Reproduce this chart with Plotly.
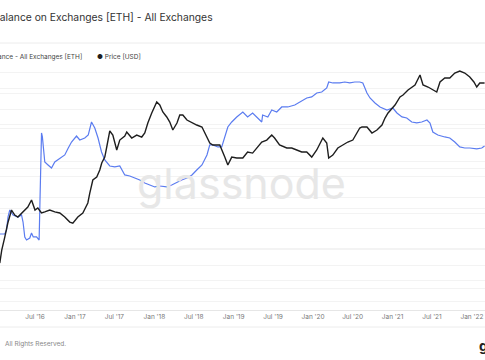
import plotly.graph_objects as go

# ---------------- data ----------------
price_dates = [
    "2016-01-21", "2016-01-30", "2016-02-13", "2016-02-27", "2016-03-15", "2016-03-30", "2016-04-13",
    "2016-04-30", "2016-05-15", "2016-05-29", "2016-06-15", "2016-07-01", "2016-07-14", "2016-07-31",
    "2016-08-15", "2016-09-07", "2016-09-30", "2016-10-23", "2016-11-15", "2016-12-08", "2016-12-22",
    "2017-01-14", "2017-02-06", "2017-03-01", "2017-03-10", "2017-03-24", "2017-04-11", "2017-04-25",
    "2017-05-04", "2017-05-18", "2017-05-27", "2017-06-10", "2017-06-24", "2017-07-12", "2017-07-26",
    "2017-08-18", "2017-08-27", "2017-09-19", "2017-10-12", "2017-11-04", "2017-11-18", "2017-12-02",
    "2017-12-20", "2018-01-03", "2018-01-12", "2018-01-26", "2018-02-09", "2018-02-27", "2018-03-13",
    "2018-03-27", "2018-04-15", "2018-04-28", "2018-05-12", "2018-05-31", "2018-06-23", "2018-07-15",
    "2018-08-08", "2018-08-31", "2018-09-13", "2018-09-27", "2018-10-29", "2018-11-21", "2018-12-05",
    "2018-12-23", "2019-01-15", "2019-02-12", "2019-03-06", "2019-03-29", "2019-04-17", "2019-05-10",
    "2019-06-02", "2019-06-25", "2019-07-08", "2019-07-31", "2019-09-02", "2019-09-25", "2019-10-18",
    "2019-11-10", "2019-12-03", "2019-12-26", "2020-01-18", "2020-02-15", "2020-03-04", "2020-03-13",
    "2020-04-01", "2020-04-24", "2020-05-17", "2020-06-09", "2020-07-02", "2020-07-25", "2020-08-03",
    "2020-08-13", "2020-09-05", "2020-09-28", "2020-10-21", "2020-11-13", "2020-11-27", "2020-12-11",
    "2020-12-29", "2021-01-12", "2021-02-04", "2021-02-18", "2021-03-13", "2021-04-14", "2021-05-07",
    "2021-05-21", "2021-06-13", "2021-07-05", "2021-07-23", "2021-08-07", "2021-08-29", "2021-09-21",
    "2021-10-14", "2021-11-06", "2021-11-29", "2021-12-22", "2022-01-10", "2022-01-23", "2022-02-06",
    "2022-02-28",
]
price_usd = [
    1.09, 1.94, 3.45, 6.42, 11.4, 9.15, 8.38,
    10.0, 11.4, 13.0, 17.8, 11.4, 12.5, 10.0,
    10.5, 11.4, 10.5, 10.0, 8.4, 6.7, 6.4,
    8.4, 10.0, 15.6, 24.2, 43.1, 49.3, 67.1,
    91.5, 119, 186, 378, 316, 163, 253,
    303, 361, 277, 316, 289, 345, 538,
    838, 1093, 1364, 1194, 876, 702, 562,
    395, 538, 767, 767, 614, 538, 492,
    451, 289, 222, 203, 203, 119, 83.8,
    119, 114, 114, 149, 142, 178, 232,
    253, 316, 277, 203, 178, 178, 163,
    149, 149, 119, 163, 277, 222, 114,
    130, 178, 203, 232, 253, 361, 431,
    451, 451, 345, 395, 492, 671, 838,
    1045, 1194, 1702, 1858, 2318, 2896, 4508,
    2896, 2649, 2318, 2124, 3305, 3946, 3946,
    4923, 5380, 4923, 4125, 3305, 2649, 3162,
    3162,
]

balance_dates = [
    "2016-01-21", "2016-02-13", "2016-02-21", "2016-02-28", "2016-03-07", "2016-03-22", "2016-04-14",
    "2016-04-30", "2016-05-07", "2016-05-15", "2016-05-23", "2016-06-07", "2016-06-15", "2016-06-23",
    "2016-07-08", "2016-07-20", "2016-07-23", "2016-07-26", "2016-07-31", "2016-08-04", "2016-08-15",
    "2016-08-30", "2016-09-15", "2016-09-30", "2016-10-23", "2016-11-15", "2016-12-01", "2016-12-16",
    "2017-01-08", "2017-01-23", "2017-02-15", "2017-03-03", "2017-03-18", "2017-04-02", "2017-04-17",
    "2017-05-03", "2017-05-18", "2017-06-10", "2017-07-03", "2017-07-26", "2017-08-18", "2017-09-10",
    "2017-10-03", "2017-10-26", "2017-11-18", "2017-12-11", "2018-01-03", "2018-01-26", "2018-02-27",
    "2018-03-22", "2018-04-15", "2018-05-07", "2018-05-31", "2018-06-23", "2018-07-15", "2018-08-08",
    "2018-08-31", "2018-09-13", "2018-09-27", "2018-10-20", "2018-11-07", "2018-11-21", "2018-12-05",
    "2018-12-23", "2019-01-15", "2019-02-12", "2019-03-06", "2019-03-29", "2019-04-21", "2019-05-10",
    "2019-05-14", "2019-06-07", "2019-06-25", "2019-07-18", "2019-08-10", "2019-09-07", "2019-10-09",
    "2019-11-01", "2019-12-03", "2019-12-26", "2020-01-18", "2020-02-10", "2020-03-04", "2020-03-13",
    "2020-04-01", "2020-05-03", "2020-05-26", "2020-06-18", "2020-07-11", "2020-08-03", "2020-08-17",
    "2020-09-05", "2020-09-19", "2020-10-12", "2020-11-04", "2020-12-06", "2021-01-02", "2021-01-21",
    "2021-02-13", "2021-03-07", "2021-03-30", "2021-04-22", "2021-05-15", "2021-06-08", "2021-06-22",
    "2021-07-05", "2021-07-28", "2021-08-29", "2021-09-21", "2021-10-14", "2021-11-06", "2021-11-29",
    "2021-12-22", "2022-01-23", "2022-02-15", "2022-02-28",
]
balance_m_eth = [
    11.75, 11.75, 12.25, 13.88, 14.75, 14.13, 13.88,
    14.13, 13.25, 11.38, 11.0, 11.25, 11.88, 11.38,
    11.38, 11.0, 14.75, 21.0, 24.38, 23.88, 20.75,
    20.38, 20.0, 20.75, 21.25, 21.63, 22.5, 23.25,
    24.0, 23.5, 23.75, 24.13, 25.75, 25.0, 23.75,
    22.0, 21.0, 20.25, 20.13, 20.25, 19.13, 19.0,
    18.75, 18.5, 18.13, 17.88, 17.63, 17.75, 17.63,
    17.88, 18.25, 18.5, 18.75, 19.13, 19.75, 20.38,
    21.63, 22.88, 22.88, 22.63, 22.63, 23.88, 25.13,
    25.75, 26.38, 27.0, 26.38, 26.88, 26.25, 25.75,
    26.63, 26.38, 27.25, 27.0, 27.63, 27.63, 27.88,
    28.25, 28.75, 28.88, 29.38, 29.5, 30.0, 30.75,
    30.63, 30.63, 30.75, 30.63, 30.75, 30.75, 30.63,
    29.38, 28.75, 28.13, 27.63, 27.25, 27.5, 26.88,
    26.38, 26.25, 25.75, 25.63, 25.75, 26.0, 25.63,
    24.5, 24.13, 23.88, 23.75, 23.25, 22.63, 22.5,
    22.5, 22.38, 22.5, 22.75,
]

price_grid = [0.2, 0.5, 1, 2, 5, 10, 20, 50, 100, 200, 500, 1000, 2000, 5000]

title_text = "Balance on Exchanges [ETH] - All Exchanges"
legend_balance = "Balance - All Exchanges [ETH]"
legend_price = "Price [USD]"

BLUE = "#5b7cf0"
BLACK = "#1e1e1e"
FONT = "Inter"

# ---------------- figure ----------------
fig = go.Figure()
fig.add_trace(go.Scatter(
    x=balance_dates, y=balance_m_eth, yaxis="y", mode="lines",
    line=dict(color=BLUE, width=1.2), name=legend_balance,
))
fig.add_trace(go.Scatter(
    x=price_dates, y=price_usd, yaxis="y2", mode="lines",
    line=dict(color=BLACK, width=1.4), name=legend_price,
))

H = 248.0  # plot height in px


def py(pix):
    return (310 - pix) / H


annotations = [
    dict(text="glassnode", x=0.497, y=py(183), xref="paper", yref="paper",
         showarrow=False, font=dict(family=FONT, size=43, color="#e7e7e7"),
         xanchor="center", yanchor="middle"),
    dict(text=title_text, x=-9 / 485, y=py(17), xref="paper", yref="paper",
         showarrow=False, font=dict(family=FONT, size=10.3, color="#333333"),
         xanchor="left", yanchor="middle"),
    dict(text=f'<span style="color:{BLUE}">●</span>  {legend_balance}', x=84 / 485, y=py(57),
         xref="paper", yref="paper", showarrow=False,
         font=dict(family=FONT, size=6.5, color="#444444"), xanchor="right", yanchor="middle"),
    dict(text=f'<span style="color:{BLACK}">●</span> {legend_price}', x=95 / 485, y=py(57),
         xref="paper", yref="paper", showarrow=False,
         font=dict(family=FONT, size=6.5, color="#444444"), xanchor="left", yanchor="middle"),
    dict(text="All Rights Reserved.", x=3 / 485, y=py(344), xref="paper", yref="paper",
         showarrow=False, font=dict(family=FONT, size=6.5, color="#888888"),
         xanchor="left", yanchor="middle"),
    dict(text="<b>gl</b>", x=477 / 485, y=py(345), xref="paper", yref="paper",
         showarrow=False, font=dict(family=FONT, size=14, color="#222222"),
         xanchor="left", yanchor="middle"),
]

shapes = [
    dict(type="line", xref="paper", yref="paper", x0=0, x1=1, y0=py(43), y1=py(43),
         line=dict(color="#ececec", width=1)),
    dict(type="line", xref="paper", yref="paper", x0=0, x1=1, y0=py(327), y1=py(327),
         line=dict(color="#ececec", width=1)),
]

fig.update_layout(
    width=485, height=360,
    margin=dict(l=0, r=0, t=62, b=50, pad=0),
    paper_bgcolor="white", plot_bgcolor="white",
    showlegend=False,
    font=dict(family=FONT, color="#666666"),
    annotations=annotations,
    shapes=shapes,
    xaxis=dict(
        type="date", range=["2016-01-22", "2022-03-02"],
        tick0="2016-01-01", dtick="M6", tickformat="%b '%y",
        showgrid=False, showline=True, linecolor="#e6e6e6", linewidth=1,
        ticks="", tickfont=dict(family=FONT, size=6.5, color="#777777"),
        zeroline=False,
    ),
    yaxis=dict(
        range=[2.25, 33.25], dtick=5, tick0=0,
        showticklabels=False, showgrid=True, gridcolor="#f3f3f3", gridwidth=1,
        zeroline=False,
    ),
    yaxis2=dict(
        type="log", range=[-0.865, 3.904], overlaying="y", side="right",
        tickvals=price_grid, showticklabels=False,
        showgrid=True, gridcolor="#f3f3f3", gridwidth=1, zeroline=False,
    ),
)

fig.write_html(
    "out.html",
    config={"displayModeBar": False},
    post_script="document.body.style.margin='0px';document.body.style.padding='0px';",
)
